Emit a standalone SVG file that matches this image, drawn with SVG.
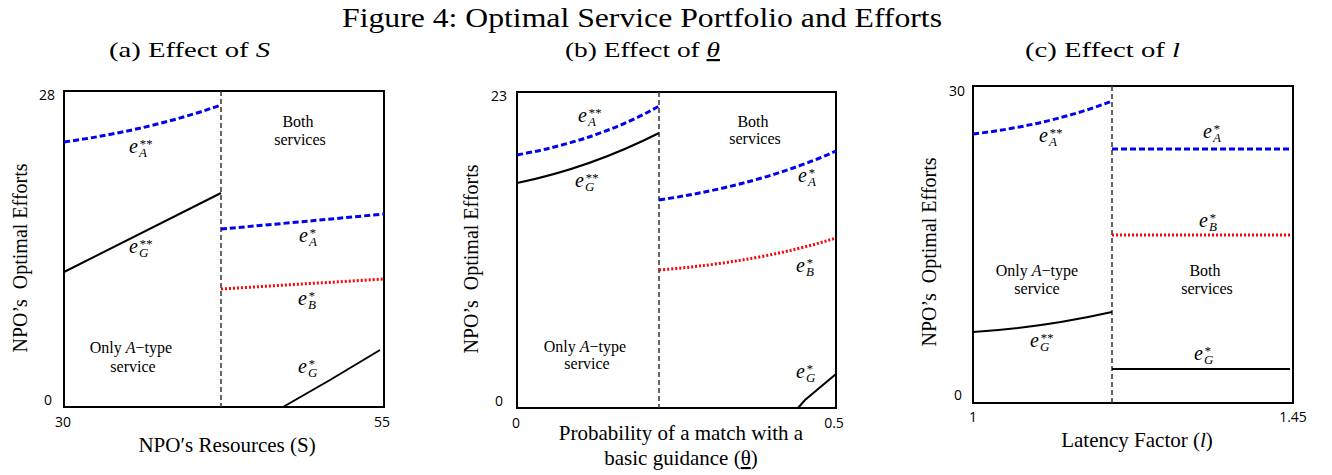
<svg xmlns="http://www.w3.org/2000/svg" width="1332" height="475" viewBox="0 0 1332 475">
<style>
.serif{font-family:"Liberation Serif","Times New Roman",serif;fill:#000}
.title{font-size:27px}
.sub{font-size:22px}
.ax{font-size:21px}
.ylab{font-size:20px;white-space:pre}
.reg{font-size:16px}
.tick{font-family:"Open Sans","Liberation Sans",sans-serif;font-size:14px;fill:#000}
.e{font-family:"Liberation Serif","DejaVu Serif",serif;font-size:20px;font-style:italic;fill:#000}
.es{font-size:13px}
.box{fill:none;stroke:#000;stroke-width:2}
.div{fill:none;stroke:#333;stroke-width:1.5;stroke-dasharray:5,3}
.blue{fill:none;stroke:#0000ee;stroke-width:3;stroke-dasharray:6,3}
.red{fill:none;stroke:#ff0000;stroke-width:3;stroke-dasharray:2,2}
.blk{fill:none;stroke:#000;stroke-width:2}
</style>
<rect width="1332" height="475" fill="#fff"/>
<text class="serif title" x="342" y="27" textLength="600" lengthAdjust="spacingAndGlyphs">Figure 4: Optimal Service Portfolio and Efforts</text>

<!-- Panel a -->
<g id="panel-a">
<text class="serif sub" x="109" y="57" textLength="161" lengthAdjust="spacingAndGlyphs">(a) Effect of <tspan font-style="italic">S</tspan></text>
<rect class="box" x="64" y="91" width="320" height="316"/>
<text class="tick" x="55" y="100" text-anchor="end">28</text>
<text class="tick" x="52" y="405" text-anchor="end">0</text>
<text class="tick" x="63" y="427" text-anchor="middle">30</text>
<text class="tick" x="382" y="427" text-anchor="middle">55</text>
<text class="serif ax" x="227" y="452" text-anchor="middle">NPO′s Resources (S)</text>
<text class="serif ylab" xml:space="preserve" transform="translate(27,258) rotate(-90)" text-anchor="middle">NPO’s  Optimal Efforts</text>
<text class="serif reg" x="298" y="127" text-anchor="middle">Both</text>
<text class="serif reg" x="300" y="145" text-anchor="middle">services</text>
<text class="serif reg" x="131" y="353" text-anchor="middle">Only <tspan font-style="italic">A</tspan>−type</text>
<text class="serif reg" x="133" y="372" text-anchor="middle">service</text>
</g>
<!-- Panel b -->
<g id="panel-b">
<text class="serif sub" x="565" y="57" textLength="155" lengthAdjust="spacingAndGlyphs">(b) Effect of <tspan font-style="italic" text-decoration="underline">θ</tspan></text>
<rect class="box" x="517" y="92" width="319" height="316"/>
<text class="tick" x="507" y="101" text-anchor="end">23</text>
<text class="tick" x="503" y="406" text-anchor="end">0</text>
<text class="tick" x="516" y="428" text-anchor="middle">0</text>
<text class="tick" x="834" y="428" text-anchor="middle">0.5</text>
<text class="serif ax" x="681" y="440" text-anchor="middle">Probability of a match with a</text>
<text class="serif ax" x="681" y="465" text-anchor="middle">basic guidance (<tspan text-decoration="underline">θ</tspan>)</text>
<text class="serif ylab" xml:space="preserve" transform="translate(478,259) rotate(-90)" text-anchor="middle">NPO’s  Optimal Efforts</text>
<text class="serif reg" x="753" y="127" text-anchor="middle">Both</text>
<text class="serif reg" x="755" y="144" text-anchor="middle">services</text>
<text class="serif reg" x="585" y="352" text-anchor="middle">Only <tspan font-style="italic">A</tspan>−type</text>
<text class="serif reg" x="587" y="369" text-anchor="middle">service</text>
</g>
<!-- Panel c -->
<g id="panel-c">
<text class="serif sub" x="1025" y="57" textLength="155" lengthAdjust="spacingAndGlyphs">(c) Effect of <tspan font-style="italic">l</tspan></text>
<rect class="box" x="973" y="86" width="320" height="317"/>
<text class="tick" x="965" y="96" text-anchor="end">30</text>
<text class="tick" x="962" y="400" text-anchor="end">0</text>
<text class="tick" x="973" y="422" text-anchor="middle">1</text>
<text class="tick" x="1293" y="422" text-anchor="middle">1.45</text>
<text class="serif ax" x="1137" y="447" text-anchor="middle">Latency Factor (<tspan font-style="italic">l</tspan>)</text>
<text class="serif ylab" xml:space="preserve" transform="translate(936,252) rotate(-90)" text-anchor="middle">NPO’s  Optimal Efforts</text>
<text class="serif reg" x="1037" y="276" text-anchor="middle">Only <tspan font-style="italic">A</tspan>−type</text>
<text class="serif reg" x="1037" y="294" text-anchor="middle">service</text>
<text class="serif reg" x="1205" y="276" text-anchor="middle">Both</text>
<text class="serif reg" x="1207" y="294" text-anchor="middle">services</text>
</g>

<g id="connectors">
<!-- a -->
<line class="div" x1="221" y1="91" x2="221" y2="407"/>
<path class="blue" d="M64,142 Q150,130 221,105"/>
<path class="blk" d="M64,272 L221,193"/>
<path class="blue" d="M221,229 Q300,222 384,214"/>
<path class="red" d="M221,289 L384,279"/>
<path class="blk" d="M283,407 L330,380 L380,350"/>
<!-- b -->
<line class="div" x1="659" y1="92" x2="659" y2="408"/>
<path class="blue" d="M517,155 Q600,140 659,106"/>
<path class="blk" d="M517,183 Q590,168 659,133"/>
<path class="blue" d="M659,200 Q760,185 836,151"/>
<path class="red" d="M659,270 Q760,262 836,238"/>
<path class="blk" d="M798,408 L805,400 L836,374"/>
<!-- c -->
<line class="div" x1="1112" y1="86" x2="1112" y2="403"/>
<path class="blue" d="M973,134 Q1050,125 1112,101"/>
<path class="blue" d="M1112,149 L1290,149"/>
<path class="red" d="M1112,235 L1290,235"/>
<path class="blk" d="M973,332 Q1040,328 1112,312"/>
<path class="blk" d="M1112,369 L1290,369"/>
</g>

<g id="labels">
<text class="e" x="129" y="153">e<tspan class="es" x="139" y="157">A</tspan><tspan class="es" x="139" y="148">**</tspan></text>
<text class="e" x="129" y="253">e<tspan class="es" x="139" y="257">G</tspan><tspan class="es" x="139" y="248">**</tspan></text>
<text class="e" x="299" y="242">e<tspan class="es" x="309" y="246">A</tspan><tspan class="es" x="309" y="237">*</tspan></text>
<text class="e" x="298" y="305">e<tspan class="es" x="308" y="309">B</tspan><tspan class="es" x="308" y="300">*</tspan></text>
<text class="e" x="298" y="373">e<tspan class="es" x="308" y="377">G</tspan><tspan class="es" x="308" y="368">*</tspan></text>

<text class="e" x="578" y="122">e<tspan class="es" x="588" y="126">A</tspan><tspan class="es" x="588" y="117">**</tspan></text>
<text class="e" x="575" y="187">e<tspan class="es" x="585" y="191">G</tspan><tspan class="es" x="585" y="182">**</tspan></text>
<text class="e" x="798" y="182">e<tspan class="es" x="808" y="186">A</tspan><tspan class="es" x="808" y="177">*</tspan></text>
<text class="e" x="796" y="272">e<tspan class="es" x="806" y="276">B</tspan><tspan class="es" x="806" y="267">*</tspan></text>
<text class="e" x="796" y="378">e<tspan class="es" x="806" y="382">G</tspan><tspan class="es" x="806" y="373">*</tspan></text>

<text class="e" x="1039" y="142">e<tspan class="es" x="1049" y="146">A</tspan><tspan class="es" x="1049" y="137">**</tspan></text>
<text class="e" x="1203" y="138">e<tspan class="es" x="1213" y="142">A</tspan><tspan class="es" x="1213" y="133">*</tspan></text>
<text class="e" x="1199" y="227">e<tspan class="es" x="1209" y="231">B</tspan><tspan class="es" x="1209" y="222">*</tspan></text>
<text class="e" x="1030" y="347">e<tspan class="es" x="1040" y="351">G</tspan><tspan class="es" x="1040" y="342">**</tspan></text>
<text class="e" x="1194" y="360">e<tspan class="es" x="1204" y="364">G</tspan><tspan class="es" x="1204" y="355">*</tspan></text>
</g>
</svg>
